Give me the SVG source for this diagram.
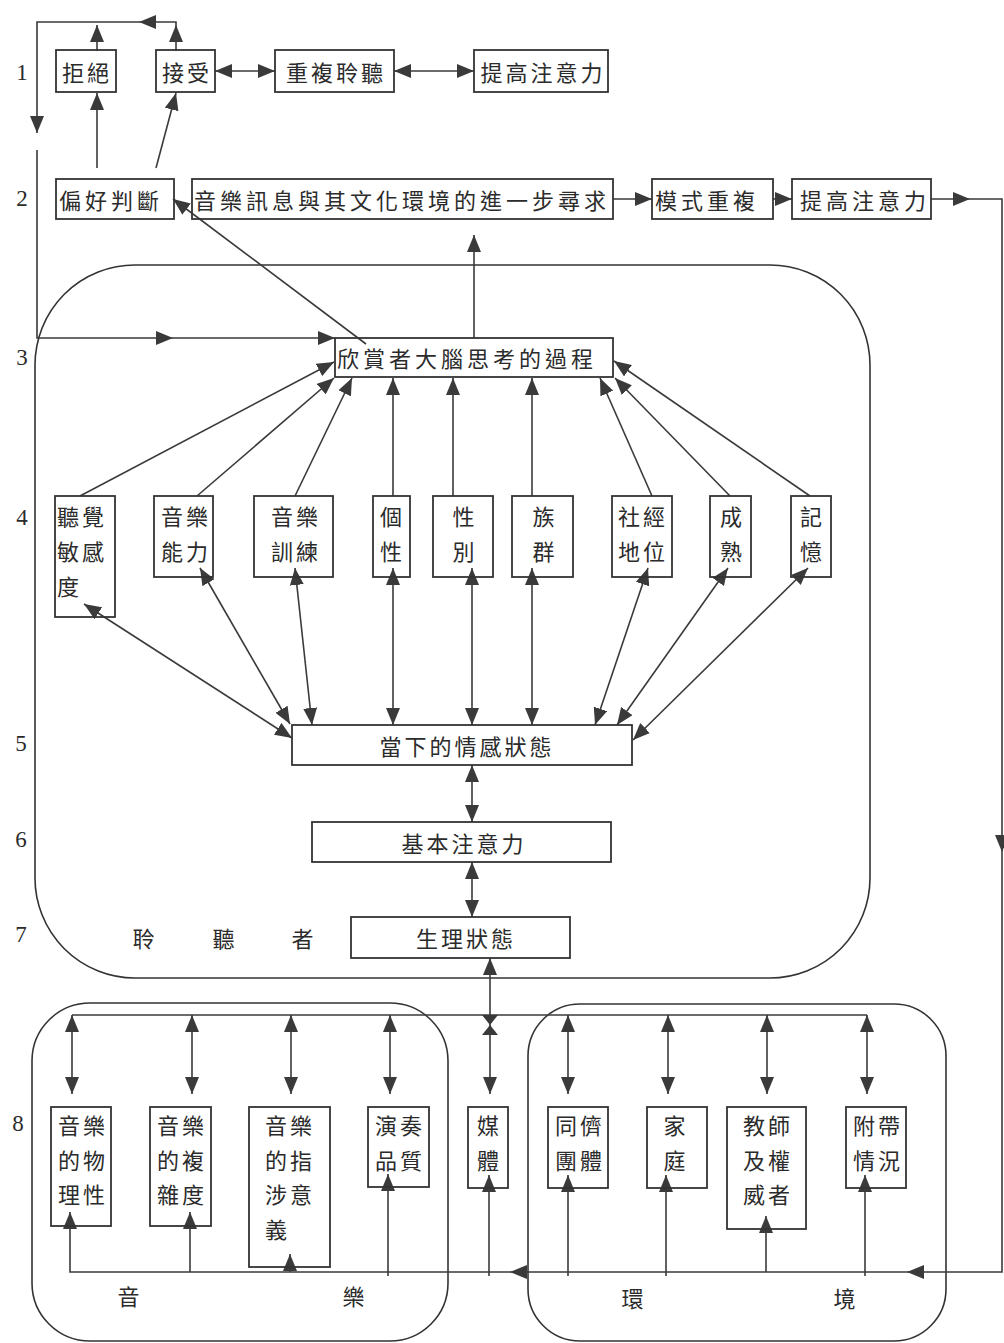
<svg xmlns="http://www.w3.org/2000/svg" xmlns:xlink="http://www.w3.org/1999/xlink" width="1004" height="1343" viewBox="0 0 1004 1343">
<style>
.t{font-family:"Noto Sans CJK TC","Noto Sans CJK SC",sans-serif;font-size:22px;fill:#2b2b2b;dominant-baseline:central;text-anchor:middle;letter-spacing:3px}
.s{text-anchor:start}
.n{font-family:"Liberation Serif",serif;font-size:23px;fill:#2b2b2b;dominant-baseline:central;text-anchor:middle}
.box{fill:none;stroke:#333;stroke-width:1.8}
.grp{fill:none;stroke:#333;stroke-width:1.6}
.c{fill:none;stroke:#3a3a3a;stroke-width:1.6}
.e{marker-end:url(#a)}
.b{marker-start:url(#a);marker-end:url(#a)}
</style>
<defs>
<marker id="a" viewBox="0 0 17 14" refX="17" refY="7" markerWidth="17" markerHeight="14" markerUnits="userSpaceOnUse" orient="auto-start-reverse"><path d="M0,0 L17,7 L0,14 Z" fill="#3a3a3a"/></marker>
<path id="ah" d="M0,0 L-17,-7 L-17,7 Z" fill="#3a3a3a"/>
</defs>
<rect width="1004" height="1343" fill="#fff"/>

<g id="groups">
<rect id="g-listener" class="grp" x="35" y="265" width="835" height="713" rx="100" ry="100"/>
<rect id="g-music" class="grp" x="32" y="1003" width="416" height="338" rx="58" ry="58"/>
<rect id="g-env" class="grp" x="528" y="1004" width="418" height="337" rx="52" ry="52"/>
</g>

<g id="labels">
<text class="n" x="22" y="72">1</text>
<text class="n" x="22" y="198">2</text>
<text class="n" x="22" y="357">3</text>
<text class="n" x="22" y="517">4</text>
<text class="n" x="21" y="743">5</text>
<text class="n" x="21" y="839">6</text>
<text class="n" x="21" y="934">7</text>
<text class="n" x="18" y="1123">8</text>
<text class="t" x="145" y="937">聆</text>
<text class="t" x="225" y="937">聽</text>
<text class="t" x="304" y="937">者</text>
<text class="t" x="130" y="1295">音</text>
<text class="t" x="355" y="1295">樂</text>
<text class="t" x="634" y="1297">環</text>
<text class="t" x="846" y="1297">境</text>
</g>

<g id="connectors">
<path class="c e" d="M97,51 V25"/>
<path class="c e" d="M176,51 V25"/>
<path class="c e" d="M176,25 V22 H37 V133"/>
<use href="#ah" transform="translate(139,22) rotate(180)"/>
<path class="c e" d="M37,150 V338 H335"/>
<use href="#ah" transform="translate(173,338)"/>
<path class="c e" d="M97,168 V93"/>
<path class="c e" d="M156,168 L176,93"/>
<path class="c b" d="M215,71 H275"/>
<path class="c b" d="M394,71 H474"/>
<path class="c e" d="M613,199 H652"/>
<path class="c e" d="M773,199 H792"/>
<path class="c" d="M931,199 H1002 V1272 H70 V1226"/>
<use href="#ah" transform="translate(970,199)"/>
<use href="#ah" transform="translate(1002,852) rotate(90)"/>
<use href="#ah" transform="translate(907,1272) rotate(180)"/>
<use href="#ah" transform="translate(510,1272) rotate(180)"/>
<path class="c e" d="M366,344 L173,199"/>
<path class="c e" d="M474,338 V235"/>
<path class="c e" d="M80,496 L334,362"/>
<path class="c e" d="M197,496 L334,378"/>
<path class="c e" d="M295,496 L352,378"/>
<path class="c e" d="M393,496 V378"/>
<path class="c e" d="M453,496 V378"/>
<path class="c e" d="M532,496 V378"/>
<path class="c e" d="M652,496 L600,378"/>
<path class="c e" d="M730,496 L615,378"/>
<path class="c e" d="M810,496 L614,361"/>
<path class="c b" d="M84,604 L292,738"/>
<path class="c b" d="M200,568 L290,724"/>
<path class="c b" d="M295,568 L312,725"/>
<path class="c b" d="M393,568 V725"/>
<path class="c b" d="M472,568 V725"/>
<path class="c b" d="M532,568 V725"/>
<path class="c b" d="M648,568 L595,725"/>
<path class="c b" d="M728,568 L617,725"/>
<path class="c b" d="M808,568 L633,740"/>
<path class="c b" d="M472,765 V822"/>
<path class="c b" d="M472,862 V917"/>
<path class="c b" d="M490,958 V1094"/>
<polygon points="482,1015 498,1015 490,1025" fill="#3a3a3a"/>
<polygon points="490,1025 482,1035 498,1035" fill="#3a3a3a"/>
<path class="c" d="M72,1015 H867"/>
<path class="c b" d="M72,1015 V1094"/>
<path class="c b" d="M192,1015 V1094"/>
<path class="c b" d="M291,1015 V1094"/>
<path class="c b" d="M390,1015 V1094"/>
<path class="c b" d="M568,1015 V1094"/>
<path class="c b" d="M668,1015 V1094"/>
<path class="c b" d="M767,1015 V1094"/>
<path class="c b" d="M867,1015 V1094"/>
<path class="c e" d="M70,1226 V1212"/>
<path class="c e" d="M190,1272 V1212"/>
<path class="c e" d="M290,1272 V1254"/>
<path class="c e" d="M388,1276 V1174"/>
<path class="c e" d="M489,1276 V1175"/>
<path class="c e" d="M568,1276 V1175"/>
<path class="c e" d="M666,1276 V1175"/>
<path class="c e" d="M766,1272 V1216"/>
<path class="c e" d="M865,1276 V1175"/>
</g>

<g id="n-reject"><rect class="box" x="56" y="50" width="60" height="42"/><text class="t" x="87" y="71">拒絕</text></g>
<g id="n-accept"><rect class="box" x="156" y="50" width="59" height="42"/><text class="t" x="187" y="71">接受</text></g>
<g id="n-repeat-listen"><rect class="box" x="275" y="50" width="119" height="42"/><text class="t" x="336" y="71">重複聆聽</text></g>
<g id="n-attention1"><rect class="box" x="474" y="50" width="134" height="42"/><text class="t" x="543" y="71">提高注意力</text></g>

<g id="n-preference"><rect class="box" x="56" y="179" width="118" height="40"/><text class="t s" x="59" y="199" style="letter-spacing:4px">偏好判斷</text></g>
<g id="n-seek"><rect class="box" x="192" y="179" width="421" height="40"/><text class="t s" x="194" y="199" style="letter-spacing:4px">音樂訊息與其文化環境的進一步尋求</text></g>
<g id="n-pattern"><rect class="box" x="652" y="179" width="121" height="40"/><text class="t s" x="655" y="199" style="letter-spacing:4px">模式重複</text></g>
<g id="n-attention2"><rect class="box" x="792" y="179" width="139" height="40"/><text class="t s" x="800" y="199" style="letter-spacing:4px">提高注意力</text></g>

<g id="n-brain"><rect class="box" x="335" y="338" width="278" height="39"/><text class="t s" x="337" y="357" style="letter-spacing:4px">欣賞者大腦思考的過程</text></g>

<g id="n-sensitivity"><rect class="box" x="55" y="496" width="60" height="121"/><text class="t s" x="57" y="515">聽覺</text><text class="t s" x="57" y="550">敏感</text><text class="t s" x="57" y="585">度</text></g>
<g id="n-ability"><rect class="box" x="154" y="496" width="59" height="81"/><text class="t" x="186" y="515">音樂</text><text class="t" x="186" y="550">能力</text></g>
<g id="n-training"><rect class="box" x="254" y="496" width="79" height="81"/><text class="t" x="296" y="515">音樂</text><text class="t" x="296" y="550">訓練</text></g>
<g id="n-personality"><rect class="box" x="373" y="496" width="37" height="81"/><text class="t" x="391" y="515" style="letter-spacing:0">個</text><text class="t" x="391" y="550" style="letter-spacing:0">性</text></g>
<g id="n-gender"><rect class="box" x="433" y="496" width="60" height="81"/><text class="t" x="465" y="515">性</text><text class="t" x="465" y="550">別</text></g>
<g id="n-ethnic"><rect class="box" x="512" y="496" width="61" height="81"/><text class="t" x="545" y="515">族</text><text class="t" x="545" y="550">群</text></g>
<g id="n-ses"><rect class="box" x="612" y="496" width="60" height="81"/><text class="t" x="643" y="515">社經</text><text class="t" x="643" y="550">地位</text></g>
<g id="n-maturity"><rect class="box" x="710" y="496" width="41" height="81"/><text class="t" x="731" y="515" style="letter-spacing:0">成</text><text class="t" x="731" y="550" style="letter-spacing:0">熟</text></g>
<g id="n-memory"><rect class="box" x="791" y="496" width="40" height="81"/><text class="t" x="811" y="515" style="letter-spacing:0">記</text><text class="t" x="811" y="550" style="letter-spacing:0">憶</text></g>

<g id="n-emotion"><rect class="box" x="292" y="725" width="340" height="40"/><text class="t" x="467" y="745">當下的情感狀態</text></g>
<g id="n-basic-attention"><rect class="box" x="312" y="822" width="299" height="40"/><text class="t" x="464" y="842">基本注意力</text></g>
<g id="n-physio"><rect class="box" x="351" y="917" width="219" height="41"/><text class="t" x="466" y="937">生理狀態</text></g>

<g id="n-physical"><rect class="box" x="51" y="1107" width="60" height="119"/><text class="t" x="83" y="1124">音樂</text><text class="t" x="83" y="1159">的物</text><text class="t" x="83" y="1193">理性</text></g>
<g id="n-complexity"><rect class="box" x="150" y="1107" width="61" height="119"/><text class="t" x="182" y="1124">音樂</text><text class="t" x="182" y="1159">的複</text><text class="t" x="182" y="1193">雜度</text></g>
<g id="n-reference"><rect class="box" x="249" y="1107" width="81" height="160"/><text class="t s" x="265" y="1124">音樂</text><text class="t s" x="265" y="1159">的指</text><text class="t s" x="265" y="1193">涉意</text><text class="t s" x="265" y="1228">義</text></g>
<g id="n-performance"><rect class="box" x="368" y="1107" width="61" height="80"/><text class="t" x="400" y="1124">演奏</text><text class="t" x="400" y="1159">品質</text></g>
<g id="n-media"><rect class="box" x="468" y="1107" width="40" height="81"/><text class="t" x="488" y="1124" style="letter-spacing:0">媒</text><text class="t" x="488" y="1159" style="letter-spacing:0">體</text></g>
<g id="n-peers"><rect class="box" x="548" y="1107" width="60" height="81"/><text class="t" x="580" y="1124">同儕</text><text class="t" x="580" y="1159">團體</text></g>
<g id="n-family"><rect class="box" x="647" y="1107" width="60" height="81"/><text class="t" x="676" y="1124">家</text><text class="t" x="676" y="1159">庭</text></g>
<g id="n-teacher"><rect class="box" x="727" y="1107" width="79" height="122"/><text class="t" x="768" y="1124">教師</text><text class="t" x="768" y="1159">及權</text><text class="t" x="768" y="1193">威者</text></g>
<g id="n-incidental"><rect class="box" x="846" y="1107" width="60" height="81"/><text class="t" x="878" y="1124">附帶</text><text class="t" x="878" y="1159">情況</text></g>
</svg>
